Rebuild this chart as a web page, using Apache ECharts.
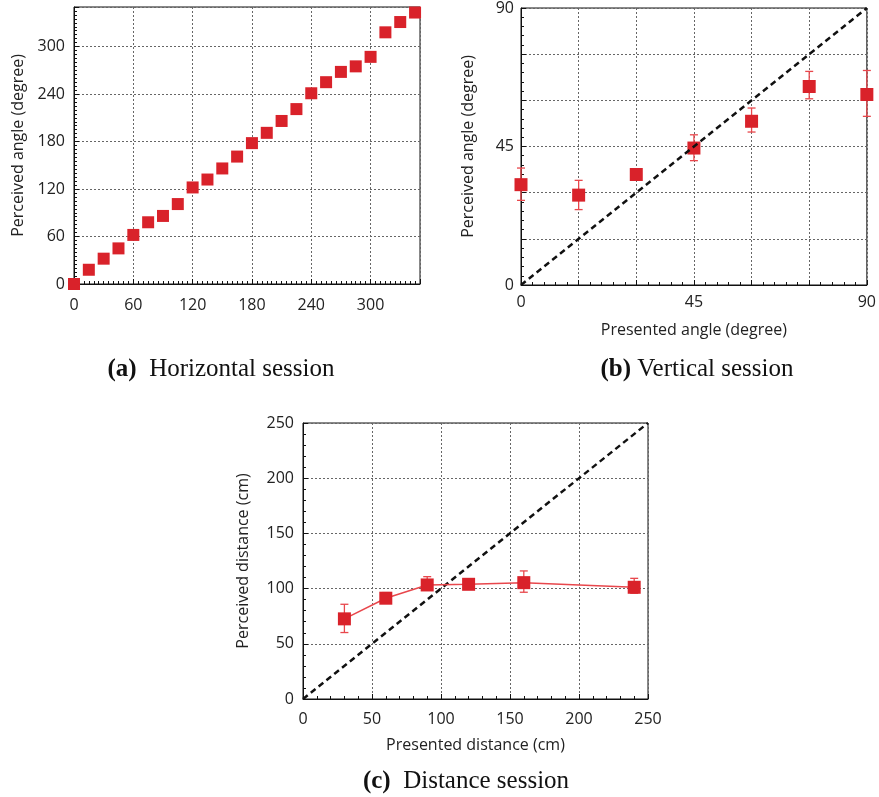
<!DOCTYPE html>
<html><head><meta charset="utf-8">
<script src="https://cdn.jsdelivr.net/npm/echarts@6/dist/echarts.min.js"></script>
<style>html,body{margin:0;padding:0;background:#fff}#c{width:879px;height:797px}</style>
</head><body><div id="c"></div>
<script>
// (a) Horizontal session
const hPresented = [0,15,30,45,60,75,90,105,120,135,150,165,180,195,210,225,240,255,270,285,300,315,330,345];
const hPerceived = [0,18,32,45,62,78,86,101,122,132,146,161,178,191,206,221,241,255,268,275,287,318,331,343];
const hTickLabels = [0,60,120,180,240,300];
// (b) Vertical session
const vPresented = [0,15,30,45,60,75,90];
const vPerceived = [32.6,29.2,35.9,44.5,53.2,64.5,61.9];
const vLow  = [27.5,24.5,34.6,40.4,49.7,60.5,54.8];
const vHigh = [38.0,34.0,37.2,48.8,57.5,69.4,69.7];
const vTickLabels = [0,45,90];
// (c) Distance session
const dPresented = [30,60,90,120,160,240];
const dPerceived = [72.6,91.3,103.3,103.9,105.4,101.2];
const dLow  = [60.2,86.7,99.4,101.5,96.7,95.8];
const dHigh = [85.8,96.4,110.8,106.0,116.0,109.3];
const dTickLabels = [0,50,100,150,200,250];
// reference diagonal (perceived = presented)
const vDiag = [[0,0],[90,90]];
const dDiag = [[0,0],[250,250]];

const RED = '#d9222a', ERR = '#e8474c', TXT = '#222';
const FONT = 'Open Sans';

function axis(gridIndex, max, interval, minorSplit, labels, name, nameGap, isY, showName, margin) {
  return {
    type: 'value', gridIndex, min: 0, max, interval,
    name: showName ? name : '', nameLocation: 'middle', nameGap,
    nameTextStyle: {color: TXT, fontSize: 16, fontFamily: FONT},
    axisLine: {show: true, lineStyle: {color: '#111', width: 1}},
    axisTick: {show: true, inside: true, length: 5, lineStyle: {color: '#111'}},
    minorTick: {show: true, splitNumber: minorSplit, length: 3, lineStyle: {color: '#111'}},
    splitLine: {show: true, lineStyle: {color: '#666', type: [2, 2], width: 1}},
    axisLabel: {
      color: TXT, fontSize: 16, fontFamily: FONT, margin,
      formatter: v => labels.indexOf(v) >= 0 ? String(v) : ''
    }
  };
}

function errorBar(params, api) {
  const x = api.value(0), lo = api.value(1), hi = api.value(2);
  const top = api.coord([x, hi]), bot = api.coord([x, lo]);
  const w = 4;
  const style = {stroke: ERR, lineWidth: 1.3, fill: null};
  return {type: 'group', children: [
    {type: 'line', shape: {x1: top[0], y1: top[1], x2: bot[0], y2: bot[1]}, style},
    {type: 'line', shape: {x1: top[0]-w, y1: top[1], x2: top[0]+w, y2: top[1]}, style},
    {type: 'line', shape: {x1: bot[0]-w, y1: bot[1], x2: bot[0]+w, y2: bot[1]}, style}
  ]};
}

const chart = echarts.init(document.getElementById('c'), null, {renderer: 'canvas'});
const cap = (letter, sep, text, left, top) => ({
  text: '{b|(' + letter + ')}' + sep + text, left, top, textAlign: 'center',
  textStyle: {fontFamily: 'Liberation Serif', fontSize: 25, color: '#111', fontWeight: 'normal',
    rich: {b: {fontFamily: 'Liberation Serif', fontSize: 25, fontWeight: 'bold', color: '#111'}}}
});

chart.setOption({
  animation: false,
  title: [
    cap('a', '  ', 'Horizontal session', 216, 352),
    cap('b', ' ', 'Vertical session', 692, 352),
    cap('c', '  ', 'Distance session', 461, 764)
  ],
  grid: [
    {left: 74, top: 7, width: 346, height: 277, show: true, borderColor: '#111', borderWidth: 1},
    {left: 521, top: 7, width: 346, height: 278, show: true, borderColor: '#111', borderWidth: 1},
    {left: 303, top: 423, width: 345, height: 276, show: true, borderColor: '#111', borderWidth: 1}
  ],
  xAxis: [
    axis(0, 350, 60, 12, hTickLabels, 'Presented angle (degree)', 30, false, false, 13),
    axis(1, 90, 15, 5, vTickLabels, 'Presented angle (degree)', 37, false, true, 9),
    axis(2, 250, 50, 5, dTickLabels, 'Presented distance (cm)', 38, false, true, 12)
  ],
  yAxis: [
    axis(0, 350, 60, 12, hTickLabels, 'Perceived angle (degree)', 48, true, true, 9),
    axis(1, 90, 15, 5, vTickLabels, 'Perceived angle (degree)', 45, true, true, 7),
    axis(2, 250, 50, 5, dTickLabels, 'Perceived distance (cm)', 52, true, true, 9)
  ],
  series: [
    {type: 'scatter', xAxisIndex: 0, yAxisIndex: 0, symbol: 'rect', symbolSize: 12,
     itemStyle: {color: RED, opacity: 1}, data: hPresented.map((x, i) => [x, hPerceived[i]])},

    {type: 'line', xAxisIndex: 1, yAxisIndex: 1, data: vDiag, symbol: 'none',
     lineStyle: {color: '#111', width: 2.5, type: [6, 4]}},
    {type: 'custom', xAxisIndex: 1, yAxisIndex: 1, renderItem: errorBar,
     encode: {x: 0, y: [1, 2]}, data: vPresented.map((x, i) => [x, vLow[i], vHigh[i]])},
    {type: 'scatter', xAxisIndex: 1, yAxisIndex: 1, symbol: 'rect', symbolSize: 13,
     itemStyle: {color: RED, opacity: 1}, data: vPresented.map((x, i) => [x, vPerceived[i]])},

    {type: 'line', xAxisIndex: 2, yAxisIndex: 2, data: dDiag, symbol: 'none',
     lineStyle: {color: '#111', width: 2.5, type: [6, 4]}},
    {type: 'custom', xAxisIndex: 2, yAxisIndex: 2, renderItem: errorBar,
     encode: {x: 0, y: [1, 2]}, data: dPresented.map((x, i) => [x, dLow[i], dHigh[i]])},
    {type: 'line', xAxisIndex: 2, yAxisIndex: 2, symbol: 'rect', symbolSize: 13,
     lineStyle: {color: ERR, width: 1.5}, itemStyle: {color: RED, opacity: 1},
     data: dPresented.map((x, i) => [x, dPerceived[i]])}
  ]
});
</script></body></html>
